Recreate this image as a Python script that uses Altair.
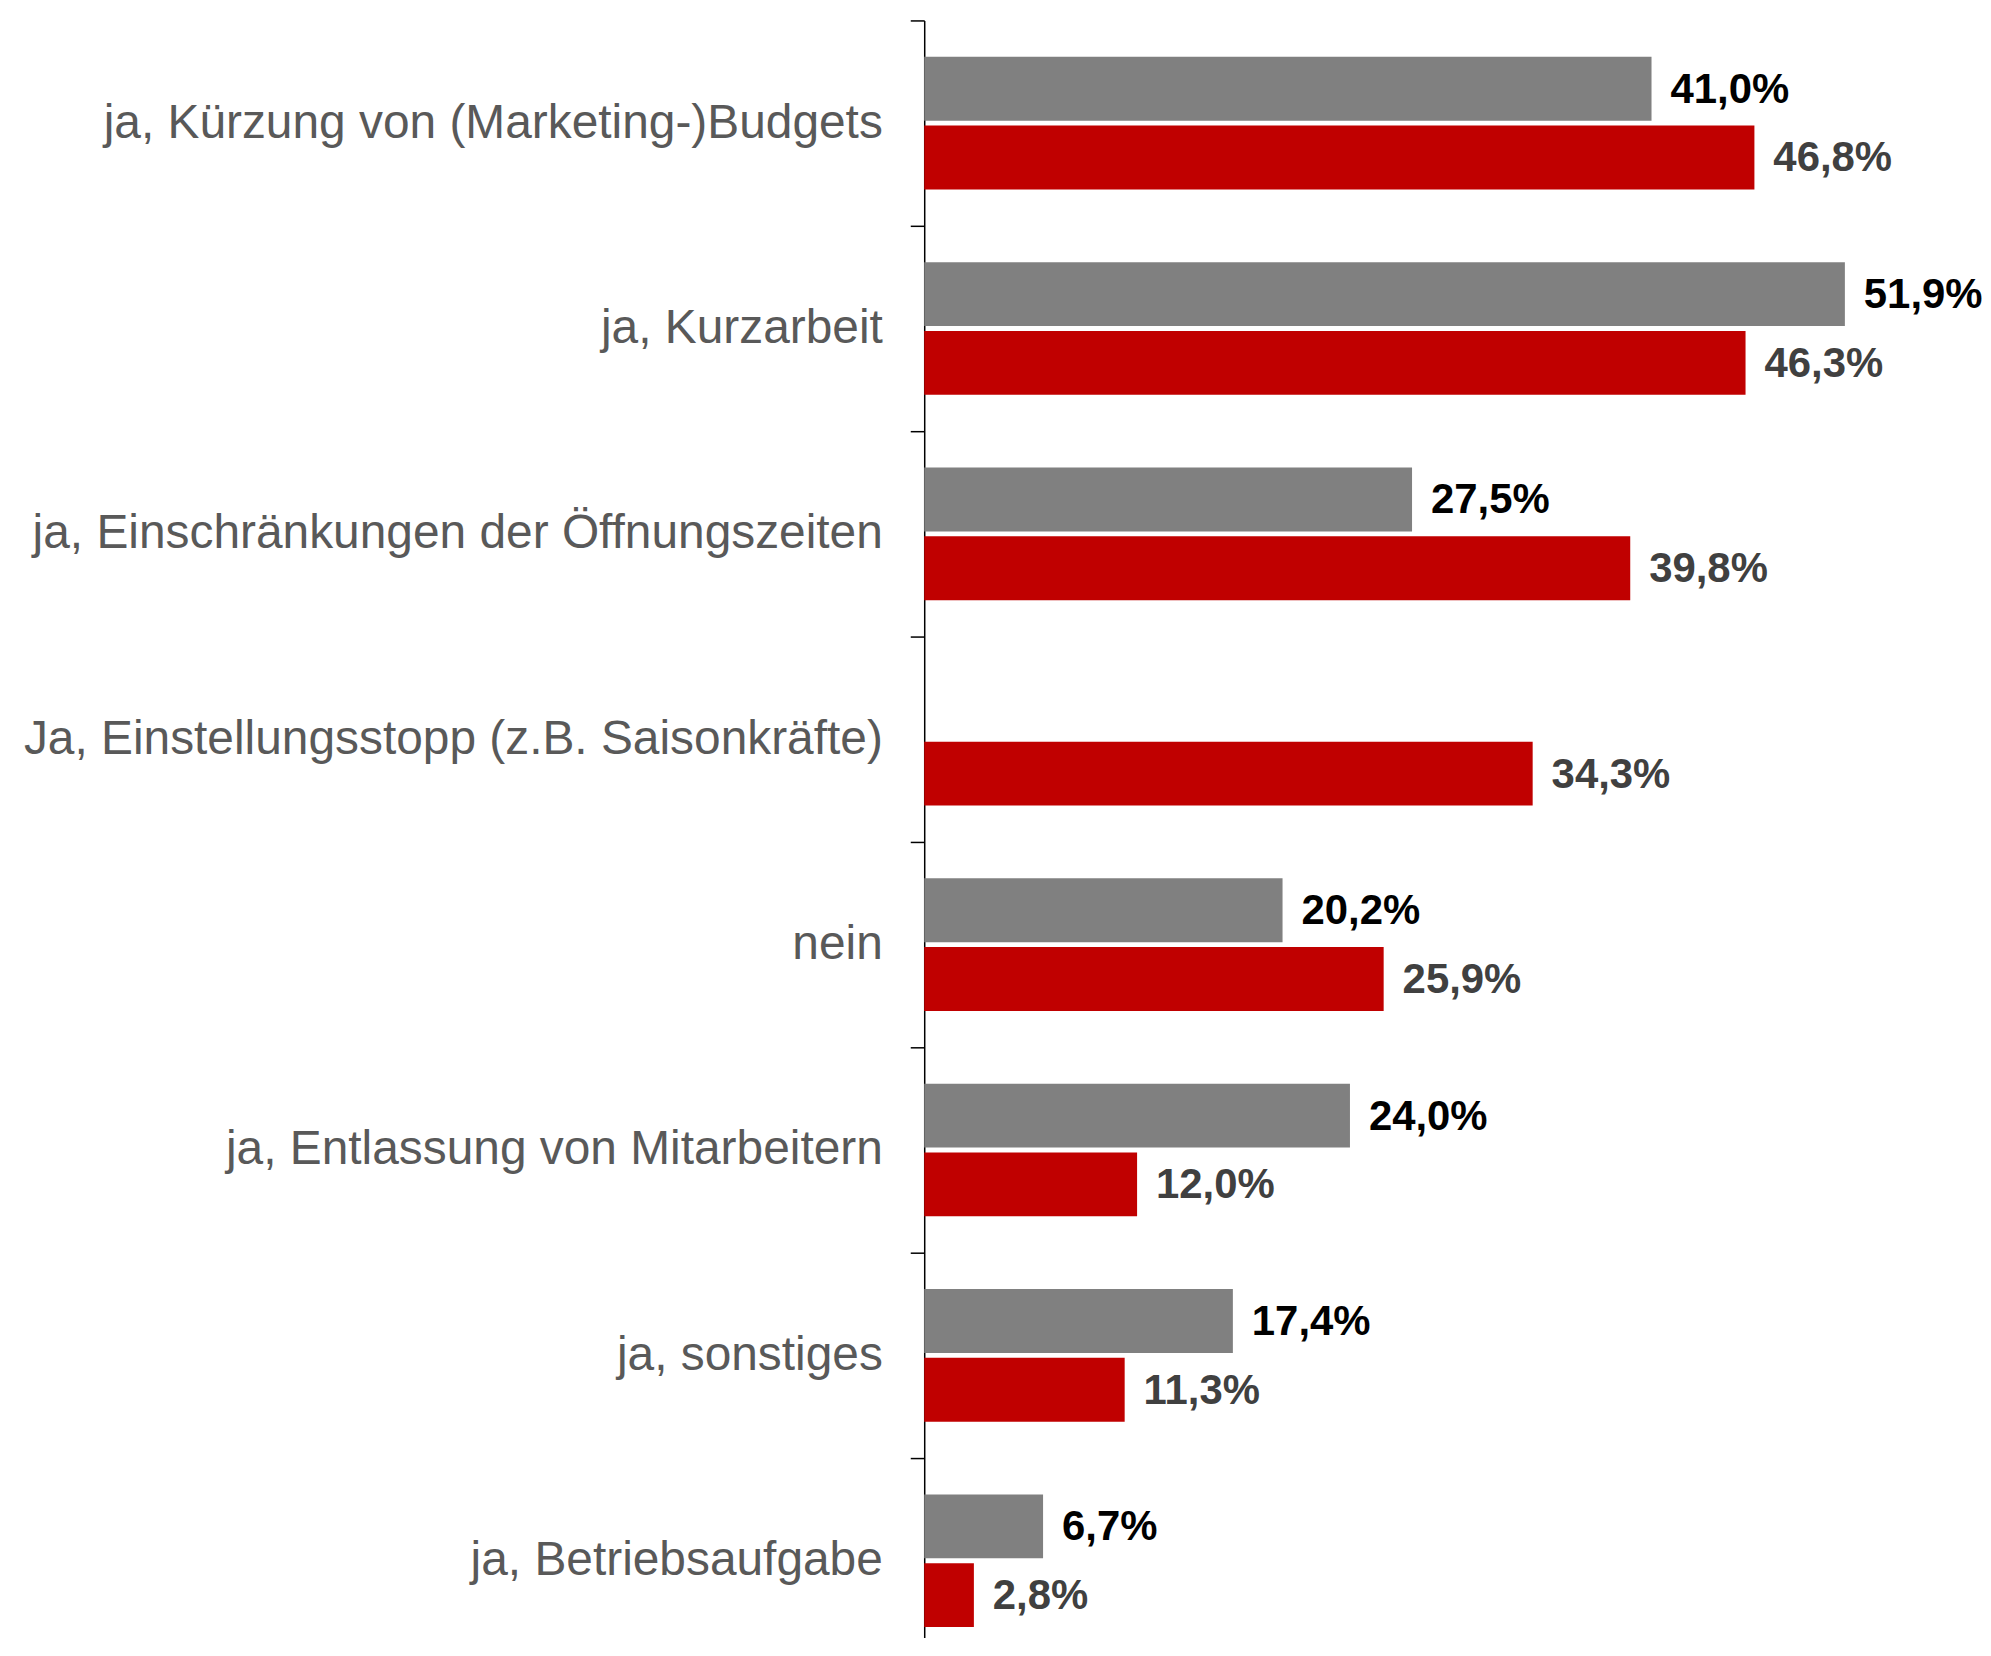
import altair as alt
import pandas as pd

categories = [
    "ja, Kürzung von (Marketing-)Budgets",
    "ja, Kurzarbeit",
    "ja, Einschränkungen der Öffnungszeiten",
    "Ja, Einstellungsstopp (z.B. Saisonkräfte)",
    "nein",
    "ja, Entlassung von Mitarbeitern",
    "ja, sonstiges",
    "ja, Betriebsaufgabe",
]
series_names = ["Welle 1", "Welle 2"]
values_gray = [41.0, 51.9, 27.5, None, 20.2, 24.0, 17.4, 6.7]
values_red = [46.8, 46.3, 39.8, 34.3, 25.9, 12.0, 11.3, 2.8]

rows = []
for c, g, r in zip(categories, values_gray, values_red):
    if g is not None:
        rows.append({"cat": c, "series": series_names[0], "v": g})
    if r is not None:
        rows.append({"cat": c, "series": series_names[1], "v": r})
df = pd.DataFrame(rows)

FONT = "Liberation Sans, Arial, Helvetica, sans-serif"

y_enc = alt.Y(
    "cat:N",
    sort=categories,
    title=None,
    scale=alt.Scale(domain=categories, paddingInner=0, paddingOuter=0, range=[0, 1648]),
    axis=alt.Axis(
        tickBand="extent",
        domainColor="#000000",
        domainWidth=1.5,
        tickColor="#000000",
        tickWidth=1.5,
        tickSize=14,
        labelFont=FONT,
        labelFontSize=48,
        labelColor="#595959",
        labelPadding=28,
        labelLimit=1200,
        grid=False,
    ),
)
yoff = alt.YOffset(
    "series:N",
    scale=alt.Scale(domain=series_names, paddingInner=0.072, paddingOuter=0.529),
)
x_enc = alt.X("v:Q", scale=alt.Scale(domain=[0, 58], nice=False, zero=True), axis=None)

base = alt.Chart(df)

bars = base.mark_bar().encode(
    x=x_enc,
    y=y_enc,
    yOffset=yoff,
    color=alt.Color(
        "series:N",
        scale=alt.Scale(domain=series_names, range=["#808080", "#C00000"]),
        legend=None,
    ),
)

text = base.transform_calculate(
    label="replace(format(datum.v, '.1f'), '.', ',') + '%'"
).mark_text(
    align="left",
    baseline="middle",
    dx=19,
    dy=1,
    font=FONT,
    fontSize=42,
    fontWeight="bold",
).encode(
    x=x_enc,
    y=y_enc,
    yOffset=yoff,
    text="label:N",
    color=alt.condition(
        alt.datum.series == series_names[0],
        alt.value("#000000"),
        alt.value("#404040"),
    ),
)

chart = (
    alt.layer(bars, text)
    .properties(
        width=1032,
        height=1620,
        autosize=alt.AutoSizeParams(type="none"),
        padding={"left": 919, "top": 10, "right": 30, "bottom": 0},
    )
    .configure_view(stroke=None)
)

chart.save("out.html", embed_options={"renderer": "svg", "actions": False})
